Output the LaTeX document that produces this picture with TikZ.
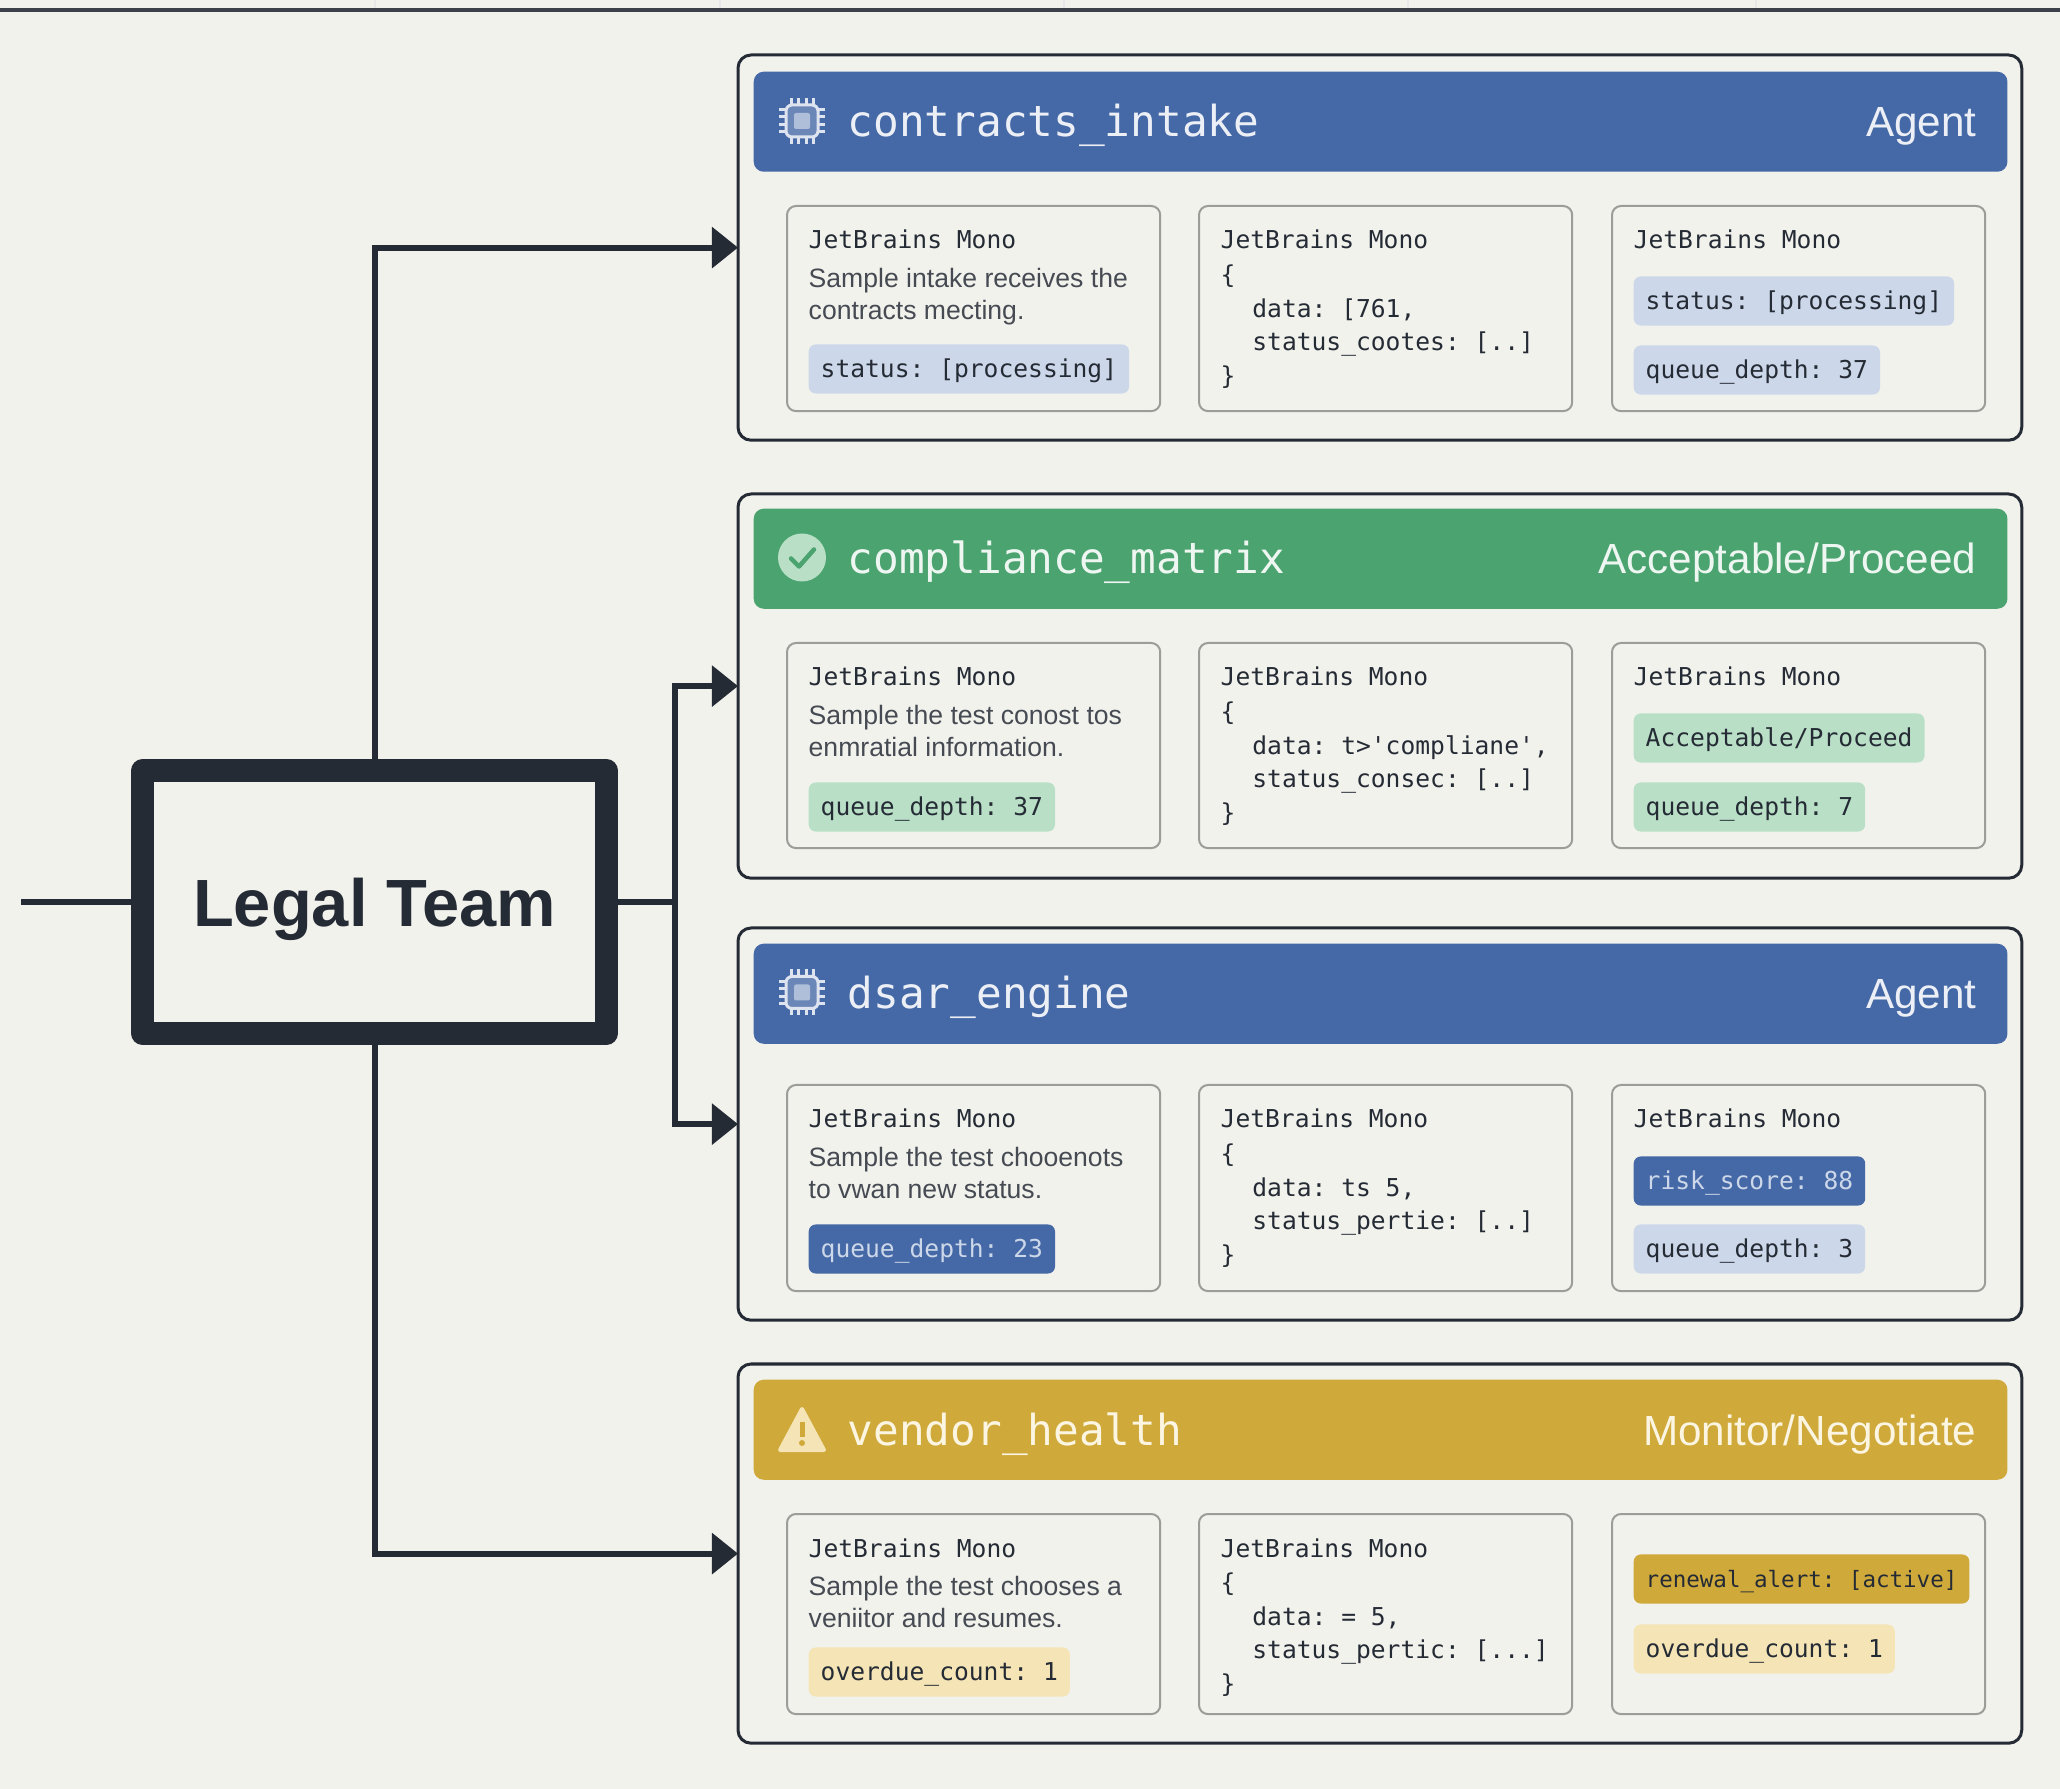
\documentclass[tikz,border=0pt]{standalone}
\usepackage{fontspec}
\setmainfont{Liberation Sans}
\setmonofont{DejaVu Sans Mono}
\usetikzlibrary{positioning, arrows.meta, calc}

\definecolor{pagebg}{HTML}{F2F2ED}
\definecolor{inkdark}{HTML}{252B35}
\definecolor{cardline}{HTML}{9C9C98}
\definecolor{agentblue}{HTML}{4568A6}
\definecolor{okgreen}{HTML}{4BA36F}
\definecolor{warngold}{HTML}{CFA93A}
\definecolor{paleblue}{HTML}{CCD8E9}
\definecolor{palegreen}{HTML}{B9E0C7}
\definecolor{palegold}{HTML}{F5E5B6}

\tikzset{
    lead/.style={draw=inkdark, fill=pagebg, line width=0.23cm, line join=round, minimum width=4.64cm, minimum height=2.62cm, text=inkdark, text depth=0pt, font=\bfseries\fontsize{19}{22}\selectfont},
    link/.style={draw=inkdark, line width=0.06cm},
    linkarrow/.style={link, -{Triangle[length=0.26cm,width=0.4cm]}},
    panel/.style={draw=inkdark, line width=0.03cm, rounded corners=0.13cm, minimum width=12.83cm, anchor=north west, inner sep=0pt, outer sep=0pt},
    header/.style={rounded corners=0.1cm, minimum width=12.53cm, minimum height=1cm, anchor=north west, inner sep=0pt},
    card/.style={draw=cardline, line width=0.02cm, rounded corners=0.09cm, minimum width=3.73cm, anchor=north west, inner sep=0pt},
    titletext/.style={anchor=base west, inner sep=0pt, font=\ttfamily\fontsize{12.15}{14}\selectfont},
    kindtext/.style={anchor=base east, inner sep=0pt, font=\fontsize{12}{14}\selectfont},
    cardhead/.style={anchor=base west, inner sep=0pt, text=inkdark, font=\ttfamily\fontsize{7}{9.5}\selectfont},
    bodytext/.style={anchor=north west, inner sep=0pt, align=left, text=inkdark!85, font=\fontsize{7.56}{8.97}\selectfont},
    codetext/.style={anchor=north west, inner sep=0pt, align=left, text=inkdark, font=\ttfamily\fontsize{7}{9.53}\selectfont},
    chiptag/.style={anchor=west, rounded corners=0.07cm, minimum height=0.49cm, inner xsep=0.12cm, inner ysep=0pt, text height=6.4pt, text depth=1.5pt, text=inkdark, font=\ttfamily\fontsize{7}{9}\selectfont},
    iconline/.style={draw=#1, line width=0.03cm},
    chipicon/.pic={
        \draw[iconline=#1, fill=#1!25!agentblue, rounded corners=0.06cm] (-16,-16) rectangle (16,16);
        \fill[#1!70!agentblue, rounded corners=0.02cm] (-8,-8) rectangle (8,8);
        \foreach \p in {-11,-4,4,11} {
            \draw[iconline=#1] (\p,-23) -- (\p,-16);
            \draw[iconline=#1] (\p,16) -- (\p,23);
            \draw[iconline=#1] (-23,\p) -- (-16,\p);
            \draw[iconline=#1] (16,\p) -- (23,\p);
        }
    },
    checkicon/.pic={
        \fill[palegreen] (0,0) circle (24);
        \draw[okgreen, line width=0.045cm, line cap=round, line join=round] (-11,1) -- (-3,9) -- (12,-8);
    },
    warnicon/.pic={
        \fill[palegold, draw=palegold, line width=0.04cm, line join=round] (-22,21) -- (0,-20) -- (22,21) -- cycle;
        \fill[warngold] (-2.5,-7) rectangle (2.5,8);
        \fill[warngold] (0,14) circle (3);
    }
}
\newcommand{\codeindent}{\hspace*{9pt}}

\begin{document}
\begin{tikzpicture}[x=0.01cm, y=-0.01cm]
    \fill[pagebg] (0,0) rectangle (2060,1789);
    \useasboundingbox (0,0) rectangle (2060,1789);

    % Top rule
    \draw[black!9, line width=0.015cm] (375,0) -- (375,8) (720,0) -- (720,8) (1064,0) -- (1064,8) (1408,0) -- (1408,8) (1756,0) -- (1756,8);
    \draw[inkdark!90, line width=0.035cm] (0,10) -- (2060,10);

    % Legal Team
    \node[lead] (legal) at (374.5,902) {Legal Team};
    \coordinate (feed) at (21,902);
    \coordinate (bus) at (675,902);

    % contracts_intake - blue
    \node[panel, minimum height=3.85cm] (intake) at (738,55) {};
    \node[header, fill=agentblue] (intake-head) at (753,71) {};
    \pic at (802,121) {chipicon=agentblue!18!white};
    \node[titletext, text=agentblue!10!white] (intake-title) at (847,137) {contracts\_intake};
    \node[kindtext, text=agentblue!10!white] (intake-kind) at (1977,137) {Agent};
    \node[card, minimum height=2.05cm] (intake-a) at (786,205) {};
    \node[card, minimum height=2.05cm] (intake-b) at (1198,205) {};
    \node[card, minimum height=2.05cm] (intake-c) at (1611,205) {};
    \node[cardhead] (intake-a-head) at (808,249) {JetBrains Mono};
    \node[bodytext] (intake-a-body) at (808,268) {Sample intake receives the\\contracts mecting.};
    \node[chiptag, fill=paleblue] (intake-a-tag) at (808,369) {status: [processing]};
    \node[cardhead] (intake-b-head) at (1220,249) {JetBrains Mono};
    \node[codetext] (intake-b-code) at (1220,264.5) {\{\\\codeindent data: [761,\\\codeindent status\_cootes: [..]\\\}};
    \node[cardhead] (intake-c-head) at (1633,249) {JetBrains Mono};
    \node[chiptag, fill=paleblue] (intake-c-tag1) at (1633,301) {status: [processing]};
    \node[chiptag, fill=paleblue] (intake-c-tag2) at (1633,370) {queue\_depth: 37};

    % compliance_matrix - green
    \node[panel, minimum height=3.84cm] (compliance) at (738,494) {};
    \node[header, fill=okgreen] (compliance-head) at (753,508) {};
    \pic at (802,557.5) {checkicon};
    \node[titletext, text=okgreen!10!white] (compliance-title) at (847,574) {compliance\_matrix};
    \node[kindtext, text=okgreen!10!white] (compliance-kind) at (1977,574) {Acceptable/Proceed};
    \node[card, minimum height=2.05cm] (compliance-a) at (786,642) {};
    \node[card, minimum height=2.05cm] (compliance-b) at (1198,642) {};
    \node[card, minimum height=2.05cm] (compliance-c) at (1611,642) {};
    \node[cardhead] (compliance-a-head) at (808,686) {JetBrains Mono};
    \node[bodytext] (compliance-a-body) at (808,705) {Sample the test conost tos\\enmratial information.};
    \node[chiptag, fill=palegreen] (compliance-a-tag) at (808,807) {queue\_depth: 37};
    \node[cardhead] (compliance-b-head) at (1220,686) {JetBrains Mono};
    \node[codetext] (compliance-b-code) at (1220,701.5) {\{\\\codeindent data: t>'compliane',\\\codeindent status\_consec: [..]\\\}};
    \node[cardhead] (compliance-c-head) at (1633,686) {JetBrains Mono};
    \node[chiptag, fill=palegreen] (compliance-c-tag1) at (1633,738) {Acceptable/Proceed};
    \node[chiptag, fill=palegreen] (compliance-c-tag2) at (1633,807) {queue\_depth: 7};

    % dsar_engine - blue
    \node[panel, minimum height=3.92cm] (dsar) at (738,928) {};
    \node[header, fill=agentblue] (dsar-head) at (753,943) {};
    \pic at (802,992.5) {chipicon=agentblue!18!white};
    \node[titletext, text=agentblue!10!white] (dsar-title) at (847,1009) {dsar\_engine};
    \node[kindtext, text=agentblue!10!white] (dsar-kind) at (1977,1009) {Agent};
    \node[card, minimum height=2.06cm] (dsar-a) at (786,1084) {};
    \node[card, minimum height=2.06cm] (dsar-b) at (1198,1084) {};
    \node[card, minimum height=2.06cm] (dsar-c) at (1611,1084) {};
    \node[cardhead] (dsar-a-head) at (808,1128) {JetBrains Mono};
    \node[bodytext] (dsar-a-body) at (808,1147) {Sample the test chooenots\\to vwan new status.};
    \node[chiptag, fill=agentblue, text=paleblue] (dsar-a-tag) at (808,1249) {queue\_depth: 23};
    \node[cardhead] (dsar-b-head) at (1220,1128) {JetBrains Mono};
    \node[codetext] (dsar-b-code) at (1220,1143.5) {\{\\\codeindent data: ts 5,\\\codeindent status\_pertie: [..]\\\}};
    \node[cardhead] (dsar-c-head) at (1633,1128) {JetBrains Mono};
    \node[chiptag, fill=agentblue, text=paleblue] (dsar-c-tag1) at (1633,1181) {risk\_score: 88};
    \node[chiptag, fill=paleblue] (dsar-c-tag2) at (1633,1249) {queue\_depth: 3};

    % vendor_health - gold
    \node[panel, minimum height=3.79cm] (vendor) at (738,1364) {};
    \node[header, fill=warngold] (vendor-head) at (753,1379) {};
    \pic at (802,1429) {warnicon};
    \node[titletext, text=palegold!40!white] (vendor-title) at (847,1445) {vendor\_health};
    \node[kindtext, text=palegold!40!white] (vendor-kind) at (1977,1445) {Monitor/Negotiate};
    \node[card, minimum height=2cm] (vendor-a) at (786,1513) {};
    \node[card, minimum height=2cm] (vendor-b) at (1198,1513) {};
    \node[card, minimum height=2cm] (vendor-c) at (1611,1513) {};
    \node[cardhead] (vendor-a-head) at (808,1557) {JetBrains Mono};
    \node[bodytext] (vendor-a-body) at (808,1576) {Sample the test chooses a\\veniitor and resumes.};
    \node[chiptag, fill=palegold] (vendor-a-tag) at (808,1672) {overdue\_count: 1};
    \node[cardhead] (vendor-b-head) at (1220,1557) {JetBrains Mono};
    \node[codetext] (vendor-b-code) at (1220,1572.5) {\{\\\codeindent data: = 5,\\\codeindent status\_pertic: [...]\\\}};
    \node[chiptag, fill=warngold, font=\ttfamily\fontsize{6.4}{9}\selectfont] (vendor-c-tag1) at (1633,1579) {renewal\_alert: [active]};
    \node[chiptag, fill=palegold] (vendor-c-tag2) at (1633,1649) {overdue\_count: 1};

    % Connectors
    \draw[link] (feed) -- (legal.west);
    \draw[link] (legal.east) -- (bus);
    \draw[linkarrow] (legal.north) |- (intake.west);
    \draw[linkarrow] (bus) |- (compliance.west);
    \draw[linkarrow] (bus) |- (dsar.west);
    \draw[linkarrow] (legal.south) |- (vendor.west);
\end{tikzpicture}
\end{document}
